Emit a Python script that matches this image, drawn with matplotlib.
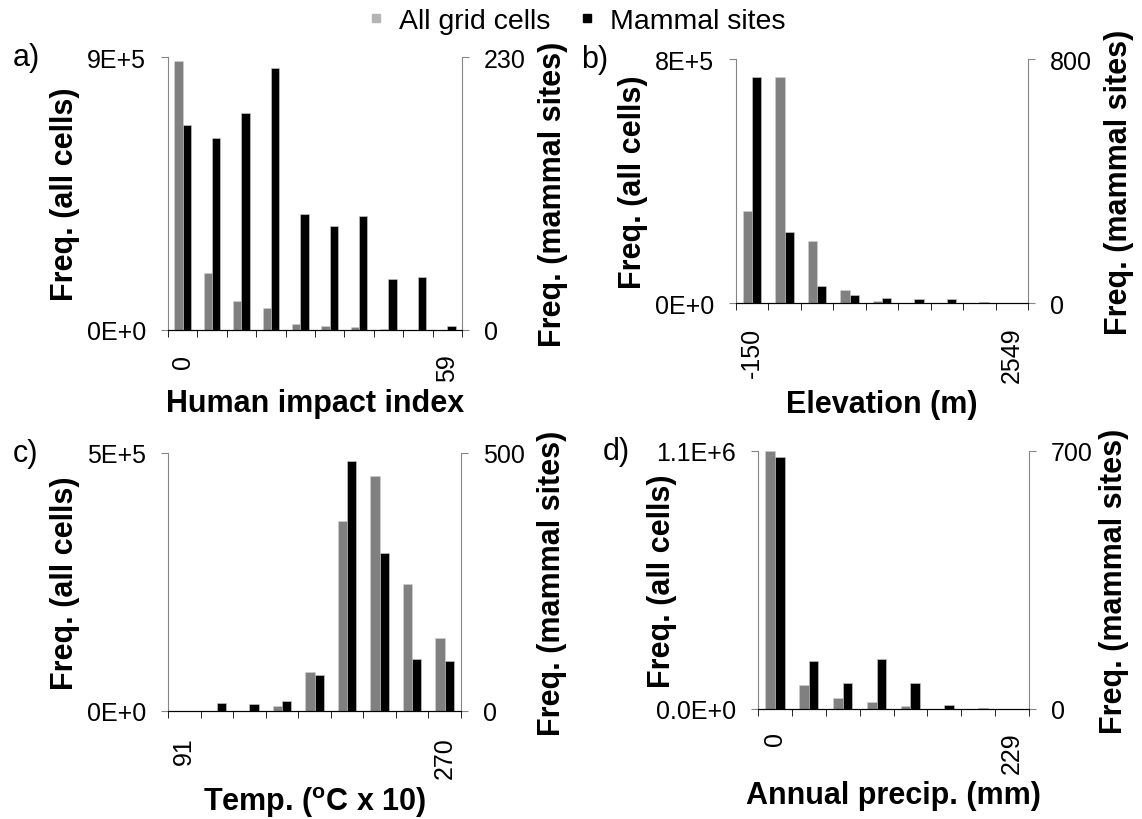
import matplotlib
matplotlib.use("Agg")
import matplotlib.pyplot as plt
from matplotlib.lines import Line2D
import numpy as np

plt.rcParams['font.family'] = ['Liberation Sans', 'DejaVu Sans']
plt.rcParams['mathtext.fontset'] = 'custom'
plt.rcParams['mathtext.rm'] = 'Liberation Sans'
plt.rcParams['mathtext.bf'] = 'Liberation Sans:bold'

# frequency per bin: all grid cells (left axis) and mammal sites (right axis)
impact_all = [8.86e5, 1.89e5, 0.95e5, 0.74e5, 0.19e5, 0.13e5, 0.09e5, 0.02e5, 0.01e5, 0.005e5]
impact_sites = [173, 162, 183, 221, 98, 88, 96, 43, 45, 3]
impact_ticks = ['0', '59']

elev_all = [3.03e5, 7.4e5, 2.03e5, 0.44e5, 0.065e5, 0.01e5, 0.005e5, 0.002e5, 0.001e5]
elev_sites = [740, 234, 56, 27, 16, 12, 14, 4, 1]
elev_ticks = ['-150', '2549']

temp_all = [0.005e5, 0.003e5, 0.002e5, 0.1e5, 0.755e5, 3.69e5, 4.55e5, 2.47e5, 1.41e5]
temp_sites = [0, 15, 13.5, 19, 70, 485, 306, 101, 97]
temp_ticks = ['91', '270']

precip_all = [1.098e6, 1.02e5, 0.47e5, 0.28e5, 0.13e5, 0.005e5, 0.002e5, 0.001e5]
precip_sites = [683, 131, 70, 135, 70, 10, 3.6, 0.5]
precip_ticks = ['0', '229']

GRAY = '#808080'
SPINE = '#868686'

fig = plt.figure(figsize=(11.42, 8.2), dpi=100)
W, H = 1142.0, 820.0


def box(l, t, r, b):
    return [l / W, 1 - b / H, (r - l) / W, (b - t) / H]


def panel(rect, letter, all_vals, site_vals, ticks, ymax, ylabs, ymax2, xlabel, pad=17):
    ax = fig.add_axes(rect)
    ax2 = ax.twinx()
    n = len(all_vals)
    x = np.arange(n)
    w = 0.285
    ax.bar(x - w / 2, all_vals, w, color=GRAY, edgecolor='#d0d0d0', linewidth=0.4)
    ax2.bar(x + w / 2, site_vals, w, color='black', edgecolor='#d0d0d0', linewidth=0.4)
    ax.set_xlim(-0.5, n - 0.5)
    ax.set_ylim(0, ymax)
    ax2.set_ylim(0, ymax2)

    ax.set_xticks([0, n - 1])
    ax.set_xticklabels(ticks, rotation=90, fontsize=18)
    ax.set_xticks(np.arange(n + 1) - 0.5, minor=True)
    ax.tick_params(axis='x', which='major', length=0, pad=pad)
    ax.tick_params(axis='x', which='minor', length=5, direction='out', color='black')

    ax.set_yticks([0, ymax])
    ax.set_yticklabels(ylabs, fontsize=18)
    ax.tick_params(axis='y', length=5, color=SPINE, pad=11)
    ax2.set_yticks([0, ymax2])
    ax2.set_yticklabels(['0', '%d' % ymax2], fontsize=18)
    ax2.tick_params(axis='y', length=5, color=SPINE, pad=11)

    for a in (ax, ax2):
        a.spines['top'].set_visible(False)
        a.spines['left'].set_color(SPINE)
        a.spines['right'].set_color(SPINE)
        a.spines['bottom'].set_color('black')
    ax2.spines['left'].set_visible(False)
    ax.spines['right'].set_visible(False)

    ax.set_ylabel('Freq. (all cells)', fontsize=22, fontweight='bold')
    ax.yaxis.set_label_coords(-0.30, 0.5)
    ax2.set_ylabel('Freq. (mammal sites)', fontsize=22, fontweight='bold', rotation=90)
    ax2.yaxis.set_label_coords(1.26, 0.5)
    ax.set_xlabel(xlabel, fontsize=22, fontweight='bold', labelpad=5)

    pos = ax.get_position()
    fig.text(pos.x0 - 155 / W, pos.y1, letter, fontsize=22, ha='left', va='center')
    return ax


panel(box(168, 58, 462, 331), 'a)', impact_all, impact_sites, impact_ticks,
      9e5, ['0E+0', '9E+5'], 230, 'Human impact index')
panel(box(736, 60, 1028, 304), 'b)', elev_all, elev_sites, elev_ticks,
      8e5, ['0E+0', '8E+5'], 800, 'Elevation (m)')
panel(box(168, 454, 461, 712), 'c)', temp_all, temp_sites, temp_ticks,
      5e5, ['0E+0', '5E+5'], 500, r'Temp. ($^{\mathbf{o}}$C x 10)', pad=18)
panel(box(758, 452, 1029, 710), 'd)', precip_all, precip_sites, precip_ticks,
      1.1e6, ['0.0E+0', '1.1E+6'], 700, 'Annual precip. (mm)', pad=16)

handles = [Line2D([], [], marker='s', linestyle='none', color='#b4b4b4', markersize=6),
           Line2D([], [], marker='s', linestyle='none', color='black', markersize=6)]
fig.legend(handles, ['All grid cells', 'Mammal sites'], loc='upper center',
           bbox_to_anchor=(0.505, 1.02), ncol=2, frameon=False, fontsize=20.5,
           handlelength=0.6, handletextpad=0.5, columnspacing=1.0)

fig.savefig('out.png', dpi=100)
